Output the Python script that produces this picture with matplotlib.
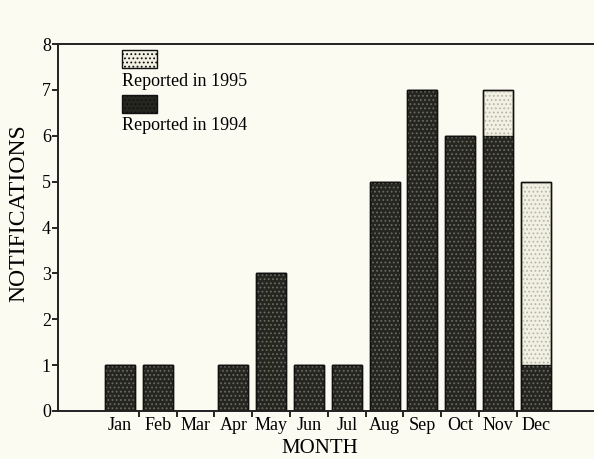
import matplotlib
matplotlib.use("Agg")
import matplotlib.pyplot as plt
import numpy as np
from matplotlib.patches import Rectangle

# data
months = ["Jan", "Feb", "Mar", "Apr", "May", "Jun",
          "Jul", "Aug", "Sep", "Oct", "Nov", "Dec"]
reported_1994 = [1, 1, 0, 1, 3, 1, 1, 5, 7, 6, 6, 1]
reported_1995 = [0, 0, 0, 0, 0, 0, 0, 0, 0, 0, 1, 4]
yticks = [0, 1, 2, 3, 4, 5, 6, 7, 8]

bg = "#fbfbf1"
dark = "#262620"
light = "#f1f0e2"

plt.rcParams["font.family"] = ["Liberation Serif", "DejaVu Serif"]
plt.rcParams["hatch.linewidth"] = 0.8

fig = plt.figure(figsize=(5.94, 4.59), dpi=100, facecolor=bg)
ax = fig.add_axes([0.0976, 0.1046, 0.9024, 0.7994], facecolor=bg)

x = np.arange(len(months))
w = 0.79

# filled bars, then dotted texture on top
ax.bar(x, reported_1994, w, color=dark, edgecolor="#111111", linewidth=1.0)
ax.bar(x, reported_1995, w, bottom=reported_1994, color=light,
       edgecolor="#111111", linewidth=1.0)
ax.bar(x, reported_1994, w, fill=False, hatch="....", edgecolor="#6a6a60",
       linewidth=0)
ax.bar(x, reported_1995, w, bottom=reported_1994, fill=False, hatch="....",
       edgecolor="#b8b8a8", linewidth=0)
# redo the outlines so the texture doesn't cover them
ax.bar(x, np.add(reported_1994, reported_1995), w, fill=False,
       edgecolor="#111111", linewidth=1.0)

ax.set_xlim(-1.64, 12.54)
ax.set_ylim(0, 8)
ax.set_yticks(yticks)
ax.set_xticks(x)
ax.set_xticklabels(months, fontsize=13)
ax.set_xticks(x[:-1] + 0.5, minor=True)
ax.tick_params(axis="x", which="major", length=0, pad=4)
ax.tick_params(axis="x", which="minor", length=4, width=1.2, direction="out")
ax.tick_params(axis="y", length=4, width=1.2, direction="out", labelsize=13, pad=1)

ax.spines["right"].set_visible(False)
for s in ["left", "bottom", "top"]:
    ax.spines[s].set_linewidth(1.4)
    ax.spines[s].set_color("#222222")

ax.set_ylabel("NOTIFICATIONS", fontsize=17)
ax.yaxis.set_label_coords(-0.054, 0.54)
ax.set_xlabel("MONTH", fontsize=15)
ax.xaxis.set_label_coords(0.489, -0.075)

# hand-made legend: swatch above its label
ax.add_patch(Rectangle((0.119, 0.935), 0.065, 0.049, transform=ax.transAxes,
                       facecolor=light, edgecolor="#111111", linewidth=1.0,
                       hatch="....", clip_on=False))
ax.text(0.119, 0.899, "Reported in 1995", transform=ax.transAxes,
        fontsize=13, va="center", ha="left")
ax.add_patch(Rectangle((0.119, 0.812), 0.065, 0.049, transform=ax.transAxes,
                       facecolor=dark, edgecolor="#111111", linewidth=1.0,
                       hatch="....", clip_on=False))
ax.text(0.119, 0.779, "Reported in 1994", transform=ax.transAxes,
        fontsize=13, va="center", ha="left")

fig.savefig("out.png", dpi=100, facecolor=bg)
